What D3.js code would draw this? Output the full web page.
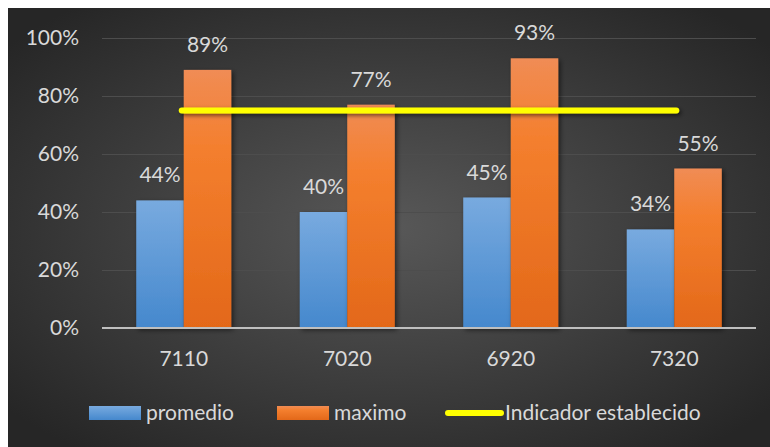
<!DOCTYPE html>
<html>
<head>
<meta charset="utf-8">
<script src="https://cdn.jsdelivr.net/npm/d3@7"></script>
<style>
    body { margin: 0; background: #fff; }
    #chart { width: 770px; height: 447px; }
    text { font-family: Lato, "Open Sans", sans-serif; fill: #d9d9d9; }
</style>
</head>
<body>
<div id="chart"></div>
<script>
//Datos
const categorias = ['7110', '7020', '6920', '7320'];
const promedio = [0.44, 0.40, 0.45, 0.34];
const maximo = [0.89, 0.77, 0.93, 0.55];
const indicador = 0.75;
const ticksY = [0, 0.2, 0.4, 0.6, 0.8, 1];
const series = ['promedio', 'maximo'];

const FONT = '21px';

let margin = {top: 38, right: 14, bottom: 119, left: 102},
    width = 770 - margin.left - margin.right,
    height = 447 - margin.top - margin.bottom;

let root = d3.select('#chart')
    .append('svg')
        .attr('width', 770)
        .attr('height', 447);

//Fondo y degradados
let defs = root.append('defs');

let bg = defs.append('radialGradient')
    .attr('id', 'bg')
    .attr('cx', '50%').attr('cy', '50%').attr('r', '65%');
bg.append('stop').attr('offset', '0%').attr('stop-color', '#585858');
bg.append('stop').attr('offset', '100%').attr('stop-color', '#262626');

let gBlue = defs.append('linearGradient')
    .attr('id', 'gBlue').attr('x1', 0).attr('y1', 0).attr('x2', 0).attr('y2', 1);
gBlue.append('stop').attr('offset', '0%').attr('stop-color', '#78aadf');
gBlue.append('stop').attr('offset', '100%').attr('stop-color', '#4588cd');

let gOrange = defs.append('linearGradient')
    .attr('id', 'gOrange').attr('x1', 0).attr('y1', 0).attr('x2', 0).attr('y2', 1);
gOrange.append('stop').attr('offset', '0%').attr('stop-color', '#f08c55');
gOrange.append('stop').attr('offset', '30%').attr('stop-color', '#f47f2e');
gOrange.append('stop').attr('offset', '100%').attr('stop-color', '#e36819');

let shadow = defs.append('filter')
    .attr('id', 'shadow')
    .attr('x', '-30%').attr('y', '-30%').attr('width', '160%').attr('height', '160%');
shadow.append('feDropShadow')
    .attr('dx', 2).attr('dy', 2).attr('stdDeviation', 2.5)
    .attr('flood-color', '#000').attr('flood-opacity', 0.55);

//Sombra para la línea (caja en coordenadas de usuario)
let shadowLine = defs.append('filter')
    .attr('id', 'shadowLine')
    .attr('filterUnits', 'userSpaceOnUse')
    .attr('x', 0).attr('y', 0).attr('width', 770).attr('height', 447);
shadowLine.append('feDropShadow')
    .attr('dx', 2).attr('dy', 2).attr('stdDeviation', 2)
    .attr('flood-color', '#000').attr('flood-opacity', 0.55);

root.append('rect')
    .attr('x', 8).attr('y', 8)
    .attr('width', 762).attr('height', 439)
    .attr('fill', 'url(#bg)');

let svg = root.append('g')
    .attr('transform', 'translate(' + margin.left + ',' + margin.top + ')');

//Escalas
let x = d3.scaleBand()
    .domain(categorias)
    .range([0, width]);

let xSub = d3.scaleBand()
    .domain(series)
    .range([x.bandwidth() / 2 - 47.5, x.bandwidth() / 2 + 47.5]);

let y = d3.scaleLinear()
    .domain([0, 1])
    .range([height, 0]);

//Eje Y
let yAxis = function(g) {
    g.call(d3.axisLeft(y).tickValues(ticksY).tickFormat(d3.format('.0%')).tickSize(-width).tickPadding(23));
    g.call(function(g){ g.select('.domain').remove(); });
    g.selectAll('.tick line')
        .attr('stroke', '#4d4d4d')
        .attr('stroke-width', 1.2);
    g.selectAll('.tick text')
        .style('font-size', FONT)
        .attr('fill', '#d9d9d9');
};

svg.append('g')
    .attr('class', 'yaxis')
    .call(yAxis);

//Barras
let grupos = svg.selectAll('.grupo')
    .data(categorias)
    .enter()
    .append('g')
    .attr('class', 'grupo')
    .attr('transform', function(d) { return 'translate(' + x(d) + ',0)'; });

grupos.each(function(d, i) {
    let g = d3.select(this);
    let vals = [{s: 'promedio', v: promedio[i]}, {s: 'maximo', v: maximo[i]}];

    g.selectAll('rect')
        .data(vals)
        .enter()
        .append('rect')
        .attr('x', function(e) { return xSub(e.s); })
        .attr('y', function(e) { return y(e.v); })
        .attr('width', xSub.bandwidth())
        .attr('height', function(e) { return height - y(e.v); })
        .attr('fill', function(e) { return e.s == 'promedio' ? 'url(#gBlue)' : 'url(#gOrange)'; })
        .attr('filter', 'url(#shadow)');

    g.selectAll('.label')
        .data(vals)
        .enter()
        .append('text')
        .attr('class', 'label')
        .attr('x', function(e) { return xSub(e.s) + xSub.bandwidth() / 2; })
        .attr('y', function(e) { return y(e.v) - 18; })
        .attr('text-anchor', 'middle')
        .style('font-size', FONT)
        .text(function(e) { return Math.round(e.v * 100) + '%'; });
});

//Línea base
svg.append('line')
    .attr('x1', 0).attr('x2', width)
    .attr('y1', height).attr('y2', height)
    .attr('stroke', '#bfbfbf')
    .attr('stroke-width', 2);

//Eje X
svg.append('g')
    .attr('transform', 'translate(0,' + height + ')')
    .call(d3.axisBottom(x).tickSize(0).tickPadding(23))
    .call(function(g){ g.select('.domain').remove(); })
    .selectAll('text')
        .style('font-size', FONT)
        .attr('fill', '#d9d9d9');

//Indicador
let xFirst = x(categorias[0]) + x.bandwidth() / 2,
    xLast = x(categorias[categorias.length - 1]) + x.bandwidth() / 2;

svg.append('line')
    .attr('x1', xFirst - 2).attr('x2', xLast + 2)
    .attr('y1', y(indicador)).attr('y2', y(indicador))
    .attr('stroke', '#ffff00')
    .attr('stroke-width', 6)
    .attr('stroke-linecap', 'round')
    .attr('filter', 'url(#shadowLine)');

//Leyenda
let leyenda = root.append('g')
    .attr('transform', 'translate(0,413)');

let items = [
    {name: 'promedio', tipo: 'rect', fill: 'url(#gBlue)', x: 89},
    {name: 'maximo', tipo: 'rect', fill: 'url(#gOrange)', x: 277},
    {name: 'Indicador establecido', tipo: 'line', fill: '#ffff00', x: 446}
];

items.forEach(function(it) {
    if (it.tipo == 'rect') {
        leyenda.append('rect')
            .attr('x', it.x).attr('y', -7)
            .attr('width', 52).attr('height', 14)
            .attr('fill', it.fill);
    } else {
        leyenda.append('line')
            .attr('x1', it.x + 2).attr('x2', it.x + 55)
            .attr('y1', 0).attr('y2', 0)
            .attr('stroke', it.fill)
            .attr('stroke-width', 6)
            .attr('stroke-linecap', 'round');
    }
    leyenda.append('text')
        .attr('x', it.x + (it.tipo == 'rect' ? 57 : 59))
        .attr('y', 0)
        .attr('dy', '0.35em')
        .style('font-size', FONT)
        .text(it.name);
});
</script>
</body>
</html>
